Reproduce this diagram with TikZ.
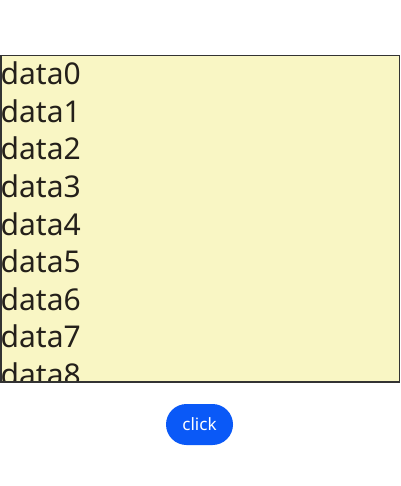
\documentclass[tikz,border=0pt]{standalone}
\usepackage{fontspec}
\setmainfont{Noto Sans}
\definecolor{boxfill}{RGB}{249,246,196}
\definecolor{txt}{RGB}{36,32,26}
\definecolor{btnblue}{RGB}{10,89,247}
\begin{document}
\begin{tikzpicture}[x=1pt,y=-1pt,
  item/.style={anchor=base west,inner sep=0pt,text=txt,font=\fontsize{30}{30}\selectfont},
  btn/.style={fill=btnblue,rounded corners=20.5pt,minimum width=67pt,minimum height=41pt,inner sep=0pt,text=white,font=\fontsize{17}{17}\selectfont}]
\useasboundingbox (0,0) rectangle (400,486);
\fill[white] (0,0) rectangle (400,486);
\node[draw=black!80,line width=1pt,fill=boxfill,minimum width=398pt,minimum height=325.5pt,anchor=north west,inner sep=0pt] (list) at (0.5,55.5) {};
\begin{scope}
\clip (1,56) rectangle (398,380.5);
\foreach \i in {0,...,8}{
  \node[item] (d\i) at (0.5,84.7+37.6*\i) {data\i};
}
\end{scope}
\draw[black!80,line width=1pt] (list.north west) rectangle (list.south east);
\node[btn] (click) at (199.5,424.5) {click};
\end{tikzpicture}
\end{document}
